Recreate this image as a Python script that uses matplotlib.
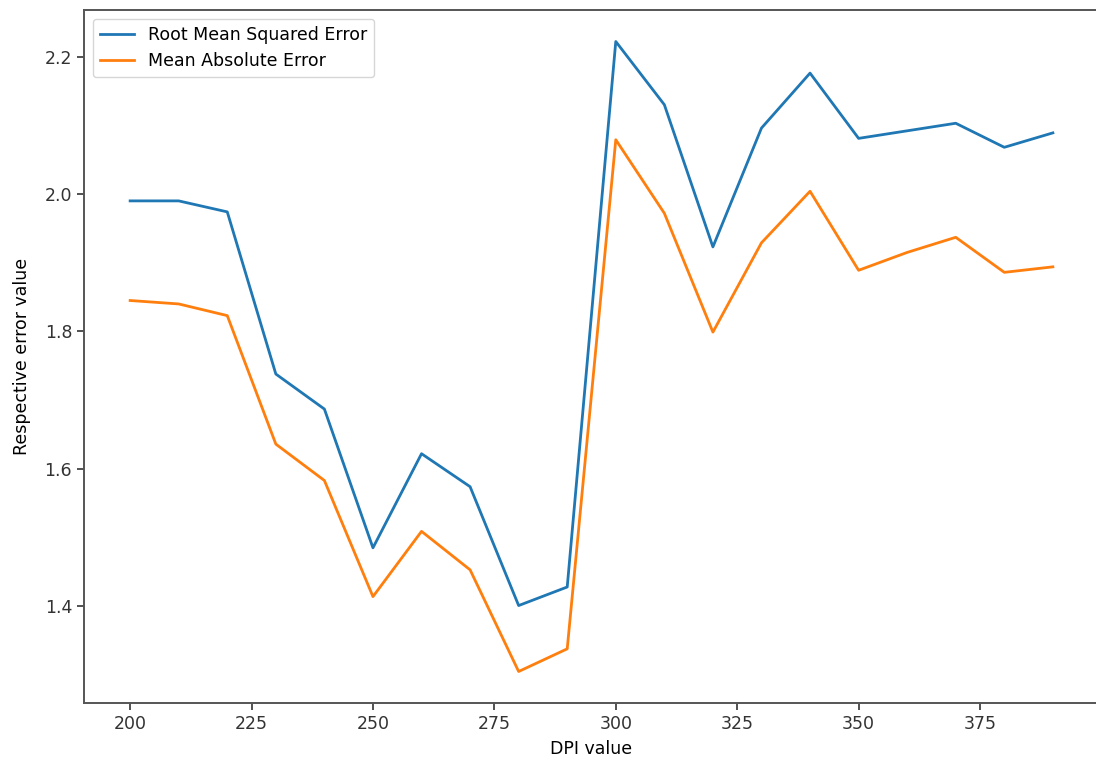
import matplotlib
matplotlib.use('Agg')
import matplotlib.pyplot as plt

# DPI values tested
dpi_values = [200, 210, 220, 230, 240, 250, 260, 270, 280, 290,
              300, 310, 320, 330, 340, 350, 360, 370, 380, 390]
# Error values
rmse = [1.990, 1.990, 1.974, 1.738, 1.687, 1.485, 1.622, 1.574, 1.401, 1.428,
        2.222, 2.130, 1.923, 2.096, 2.176, 2.081, 2.092, 2.103, 2.068, 2.089]
mae = [1.845, 1.840, 1.823, 1.636, 1.583, 1.414, 1.509, 1.453, 1.305, 1.338,
       2.079, 1.972, 1.799, 1.929, 2.004, 1.889, 1.915, 1.937, 1.886, 1.894]

fig = plt.figure(figsize=(10.96, 7.62), dpi=100)
ax = fig.add_axes([84 / 1096, 59 / 762, 1015 / 1096, 693 / 762])
ax.plot(dpi_values, rmse, label='Root Mean Squared Error', color='#1f77b4', linewidth=2.0)
ax.plot(dpi_values, mae, label='Mean Absolute Error', color='#ff7f0e', linewidth=2.0)
ax.set_xlabel('DPI value', fontsize=12.5, labelpad=5)
ax.set_ylabel('Respective error value', fontsize=12.5, labelpad=10)
ax.set_xticks([200, 225, 250, 275, 300, 325, 350, 375])
ax.set_yticks([1.4, 1.6, 1.8, 2.0, 2.2])
ax.tick_params(labelsize=12.5, length=5, width=1.2, colors='#333333')
for s in ax.spines.values():
    s.set_linewidth(1.4)
    s.set_color('#555555')
ax.legend(loc='upper left', fontsize=12.5)
fig.savefig('out.png', dpi=100)
